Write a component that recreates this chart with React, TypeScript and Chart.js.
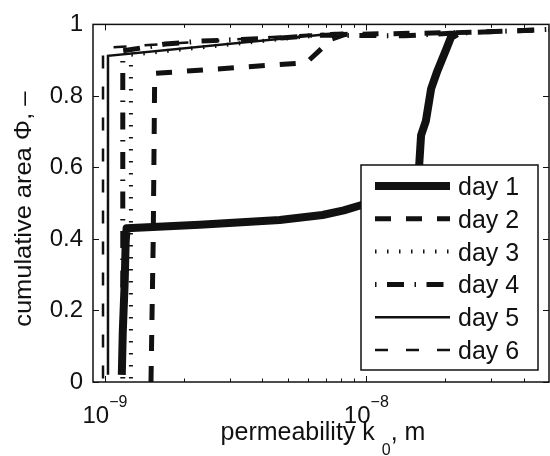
import React, { useEffect, useRef } from 'react';
import { Chart, registerables } from 'chart.js';

Chart.register(...registerables);

const FONT = '"Liberation Sans", Arial, Helvetica, sans-serif';
const INK = '#111';

// ---- data (permeability k0 in m, cumulative area Phi) ----
const seriesLabels = ['day 1', 'day 2', 'day 3', 'day 4', 'day 5', 'day 6'];

const day1K = [1.16e-9, 1.17e-9, 1.19e-9, 1.2e-9, 1.21e-9, 2.3e-9, 4.66e-9, 6.8e-9, 8.2e-9, 9.6e-9, 1.34e-8, 1.59e-8, 1.62e-8, 1.69e-8, 1.77e-8, 1.87e-8, 2.02e-8, 2.11e-8, 2.22e-8];
const day1Phi = [0.02, 0.14, 0.28, 0.39, 0.43, 0.44, 0.453, 0.467, 0.48, 0.495, 0.54, 0.596, 0.69, 0.73, 0.82, 0.87, 0.93, 0.965, 0.975];

const day2K = [1.5e-9, 1.53e-9, 1.55e-9, 5.9e-9, 6.6e-9, 7.35e-9, 8.3e-9, 2.2e-8, 5e-8];
const day2Phi = [0.0, 0.4, 0.863, 0.893, 0.926, 0.959, 0.972, 0.977, 0.985];

const day3K = [1.257e-9, 1.257e-9, 7.55e-9];
const day3Phi = [0.01, 0.915, 0.975];

const day4K = [1.17e-9, 1.17e-9, 1.7e-9, 2.3e-9, 3.3e-9, 4.7e-9, 6.6e-9, 1.4e-8, 2.1e-8, 5e-8];
const day4Phi = [0.01, 0.926, 0.945, 0.953, 0.958, 0.962, 0.97, 0.968, 0.975, 0.986];

const day5K = [1.027e-9, 1.027e-9, 7.22e-9, 8.24e-9];
const day5Phi = [0.02, 0.912, 0.973, 0.976];

const day6K = [0.983e-9, 0.983e-9, 7.22e-9, 8.24e-9];
const day6Phi = [0.01, 0.934, 0.975, 0.977];

// ---- axes ----
const xMin = 9e-10;
const xMax = 5e-8;
const yMin = 0;
const yMax = 1;
const xMajorTicks = [1e-9, 1e-8];
const xMajorExponents = ['\u22129', '\u22128'];
const xMinorTicks = [2e-9, 3e-9, 4e-9, 5e-9, 6e-9, 7e-9, 8e-9, 9e-9, 2e-8, 3e-8, 4e-8];
const yTicks = [0, 0.2, 0.4, 0.6, 0.8, 1];
const yTickLabels = ['0', '0.2', '0.4', '0.6', '0.8', '1'];
const xTitleMain = 'permeability k';
const xTitleSub = '0';
const xTitleTail = ', m';
const yTitle = 'cumulative area \u03A6, \u2013';

const seriesK = [day1K, day2K, day3K, day4K, day5K, day6K];
const seriesPhi = [day1Phi, day2Phi, day3Phi, day4Phi, day5Phi, day6Phi];

const lineStyles = [
  { width: 8, dash: [] as number[], join: 'round' },
  { width: 5, dash: [16, 15], join: 'miter' },
  { width: 4, dash: [1.5, 10.5], join: 'miter' },
  { width: 5, dash: [1.5, 10.5, 17, 10.5], join: 'miter' },
  { width: 2.5, dash: [] as number[], join: 'miter' },
  { width: 2.5, dash: [13, 18], join: 'miter' },
];

const matlabAxes = {
  id: 'matlabAxes',
  afterDraw(chart: any) {
    const { ctx, chartArea: a, scales } = chart;
    const xs = scales.x;
    const ys = scales.y;
    ctx.save();
    ctx.fillStyle = INK;
    ctx.strokeStyle = INK;

    // legend (inside, lower right)
    const lx0 = a.right - 188;
    const lx1 = a.right - 11;
    const ly0 = a.bottom - 217;
    const ly1 = a.bottom - 12;
    ctx.setLineDash([]);
    ctx.fillStyle = '#fff';
    ctx.fillRect(lx0, ly0, lx1 - lx0, ly1 - ly0);
    ctx.lineWidth = 1.5;
    ctx.strokeRect(lx0, ly0, lx1 - lx0, ly1 - ly0);
    ctx.fillStyle = INK;
    ctx.font = `25px ${FONT}`;
    ctx.textAlign = 'left';
    ctx.textBaseline = 'alphabetic';
    chart.data.datasets.forEach((ds: any, i: number) => {
      const cy = ly0 + 21 + i * 32.8;
      ctx.save();
      ctx.setLineDash(ds.borderDash || []);
      ctx.lineWidth = ds.borderWidth;
      ctx.lineCap = 'butt';
      ctx.beginPath();
      ctx.moveTo(lx0 + 14, cy);
      ctx.lineTo(lx0 + 89, cy);
      ctx.stroke();
      ctx.restore();
      ctx.fillText(ds.label, lx0 + 97, cy + 9);
    });

    // box
    ctx.setLineDash([]);
    ctx.lineWidth = 1.5;
    ctx.strokeRect(a.left, a.top, a.right - a.left, a.bottom - a.top);

    // ticks (inward, all four sides)
    ctx.lineWidth = 1;
    ctx.beginPath();
    const xTick = (v: number, len: number) => {
      const px = Math.round(xs.getPixelForValue(v)) + 0.5;
      ctx.moveTo(px, a.bottom);
      ctx.lineTo(px, a.bottom - len);
      ctx.moveTo(px, a.top);
      ctx.lineTo(px, a.top + len);
    };
    xMajorTicks.forEach((v) => xTick(v, 6));
    xMinorTicks.forEach((v) => xTick(v, 3.5));
    yTicks.forEach((v) => {
      const py = Math.round(ys.getPixelForValue(v)) + 0.5;
      ctx.moveTo(a.left, py);
      ctx.lineTo(a.left + 6, py);
      ctx.moveTo(a.right, py);
      ctx.lineTo(a.right - 6, py);
    });
    ctx.stroke();

    // x tick labels 10^n
    xMajorTicks.forEach((v, i) => {
      const px = xs.getPixelForValue(v);
      ctx.font = `24px ${FONT}`;
      const w1 = ctx.measureText('10').width;
      ctx.font = `16px ${FONT}`;
      const w2 = ctx.measureText(xMajorExponents[i]).width;
      const start = px - (w1 + w2) / 2;
      ctx.font = `24px ${FONT}`;
      ctx.fillText('10', start, a.bottom + 41);
      ctx.font = `16px ${FONT}`;
      ctx.fillText(xMajorExponents[i], start + w1, a.bottom + 25);
    });

    // x title with subscript
    ctx.font = `25px ${FONT}`;
    const wm = ctx.measureText(xTitleMain).width;
    const wt = ctx.measureText(xTitleTail).width;
    ctx.font = `16px ${FONT}`;
    const ws = ctx.measureText(xTitleSub).width;
    const gap = 7;
    const total = wm + gap + ws + wt;
    const cx = (a.left + a.right) / 2 + 2;
    const x0 = cx - total / 2;
    ctx.font = `25px ${FONT}`;
    ctx.fillText(xTitleMain, x0, a.bottom + 58);
    ctx.font = `16px ${FONT}`;
    ctx.fillText(xTitleSub, x0 + wm + gap, a.bottom + 73);
    ctx.font = `25px ${FONT}`;
    ctx.fillText(xTitleTail, x0 + wm + gap + ws, a.bottom + 58);

    // y title (rotated)
    ctx.save();
    ctx.translate(31, (a.top + a.bottom) / 2 + 6);
    ctx.rotate(-Math.PI / 2);
    ctx.scale(1.06, 1);
    ctx.font = `24px ${FONT}`;
    ctx.textAlign = 'center';
    ctx.fillText(yTitle, 0, 0);
    ctx.restore();

    ctx.restore();
  },
};

export default function App() {
  const ref = useRef<HTMLCanvasElement>(null);
  useEffect(() => {
    const datasets = seriesLabels.map((label, i) => ({
      label,
      data: seriesK[i].map((k, j) => ({ x: k, y: seriesPhi[i][j] })),
      borderColor: INK,
      backgroundColor: INK,
      borderWidth: lineStyles[i].width,
      borderDash: lineStyles[i].dash,
      borderJoinStyle: lineStyles[i].join as any,
      borderCapStyle: 'butt' as const,
      pointRadius: 0,
      fill: false,
      tension: 0,
    }));
    const chart = new Chart(ref.current as HTMLCanvasElement, {
      type: 'line',
      data: { datasets },
      options: {
        responsive: false,
        animation: false,
        devicePixelRatio: 1,
        layout: { padding: { top: 18, right: 1, left: 0, bottom: 0 } },
        plugins: { legend: { display: false }, tooltip: { enabled: false } },
        scales: {
          x: {
            type: 'logarithmic',
            min: xMin,
            max: xMax,
            grid: { display: false },
            border: { display: false },
            ticks: { display: false },
            afterFit: (s: any) => { s.height = 74; },
          },
          y: {
            type: 'linear',
            min: yMin,
            max: yMax,
            grid: { display: false, drawTicks: false },
            border: { display: false },
            afterBuildTicks: (s: any) => { s.ticks = yTicks.map((v) => ({ value: v })); },
            ticks: {
              padding: 10,
              color: INK,
              font: { family: FONT, size: 24 },
              callback: (_v: any, idx: number) => yTickLabels[idx],
            },
            afterFit: (s: any) => { s.width = 93; },
          },
        },
      },
      plugins: [matlabAxes],
    });
    return () => chart.destroy();
  }, []);
  return (
    <div style={{ position: 'absolute', left: 0, top: 0, width: 550, height: 456, background: '#fff' }}>
      <canvas ref={ref} width={550} height={456} style={{ display: 'block', width: 550, height: 456 }} />
    </div>
  );
}
